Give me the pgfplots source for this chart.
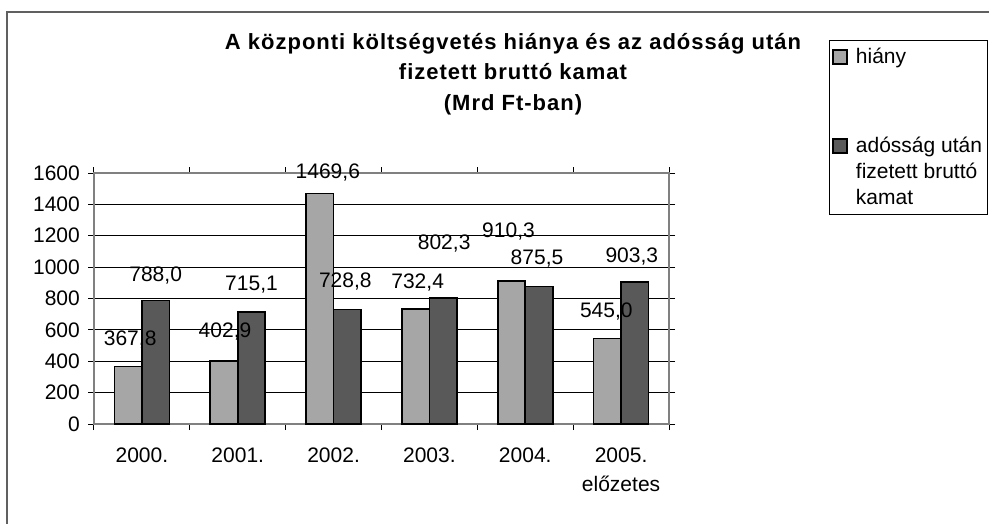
\documentclass[border=0pt]{standalone}
\usepackage{fontspec}
\setmainfont{Liberation Sans}
\newfontfamily\titlefont[LetterSpace=4.5]{Liberation Sans}
\usepackage{pgfplots}
\pgfplotsset{compat=1.18}
\usepackage{pgfplotstable}
\definecolor{lightbar}{RGB}{166,166,166}
\definecolor{darkbar}{RGB}{89,89,89}
\definecolor{framegray}{RGB}{128,128,128}
\definecolor{outergray}{RGB}{96,96,96}

% x = category index, y = value, dy/dx = label offset (px)
\pgfplotstableread{
x y dy dx
0 367.8 27 2
1 402.9 29 1
2 1469.6 21 8
3 732.4 27 2
4 910.3 50 -3
5 545.0 27 -1
}\hiany
\pgfplotstableread{
x y dy dx
0 788.0 25 0
1 715.1 27 0
2 728.8 28 -2
3 802.3 55 1
4 875.5 28 -2
5 903.3 26 -3
}\kamat

\newcommand{\bigfont}{\fontsize{21}{26}\selectfont}
\pgfplotsset{
  mylegendA/.style={legend image code/.code={\draw[##1,line width=1.4pt] (0pt,-7pt) rectangle (14pt,7pt); \path (20pt,0pt);}},
  mylegendB/.style={legend image code/.code={\draw[##1,line width=1.4pt] (0pt,19pt) rectangle (14pt,33pt); \path (20pt,-33pt);}},
  mylabels/.style={
    visualization depends on={\thisrow{dy} \as \dy},
    visualization depends on={\thisrow{dx} \as \dx},
    nodes near coords={\pgfmathprintnumber[assume math mode=true,fixed,fixed zerofill,precision=1,use comma,1000 sep={}]{\pgfplotspointmeta}},
    nodes near coords style={anchor=center, inner sep=0pt, yshift=\dy pt, xshift=\dx pt, font=\bigfont, text=black, line width=0pt},
  },
}

\begin{document}
\begin{tikzpicture}
% axis box lower-left corner is the origin; reference pixel (94,424)
\useasboundingbox (-94pt,-99pt) rectangle (895pt,424pt);
\draw[line width=1.3pt, outergray] (-87pt,-101pt) -- (-87pt,412pt) -- (897pt,412pt);
\node[align=center, inner sep=0pt, anchor=north, font=\titlefont\bfseries\fontsize{22}{30.5}\selectfont] at (419pt,391pt)
  {A központi költségvetés hiánya és az adósság után\\fizetett bruttó kamat\\(Mrd Ft-ban)};
\begin{axis}[
  scale only axis, width=575pt, height=251pt,
  clip=false,
  ybar=0pt, bar width=27.5pt,
  xmin=-0.5, xmax=5.5, ymin=0, ymax=1600,
  ytick={0,200,...,1600},
  xtick={-0.5,0.5,...,5.5},
  xticklabels={},
  extra x ticks={0,1,2,3,4,5},
  extra x tick labels={2000.,2001.,2002.,2003.,2004.,{2005.\\előzetes}},
  extra x tick style={major tick length=0pt, grid=none},
  tick align=outside,
  major tick length=6pt,
  tick style={black, line width=1pt},
  ymajorgrids,
  grid style={black, line width=0.9pt},
  axis line style={framegray, line width=1.2pt},
  /pgf/number format/assume math mode=true,
  /pgf/number format/1000 sep={},
  yticklabel style={font=\bigfont, inner sep=0pt, anchor=east, xshift=-8pt},
  xticklabel style={font=\fontsize{21}{29}\selectfont, align=center, inner sep=0pt, anchor=north, yshift=-24pt},
  legend style={at={(1.2783,1.5299)}, anchor=north west, draw=black, line width=0.8pt,
    font=\bigfont, inner xsep=3pt, inner ysep=6pt, row sep=68pt,
    cells={align=left}},
  legend cell align=left,
]
\addplot[fill=lightbar, draw=black, line width=1.6pt, mylabels, mylegendA] table[x=x,y=y] {\hiany};
\addlegendentry{hiány}
\addplot[fill=darkbar, draw=black, line width=1.6pt, mylabels, mylegendB] table[x=x,y=y] {\kamat};
\addlegendentry{adósság után\\fizetett bruttó\\kamat}
\end{axis}
\end{tikzpicture}
\end{document}
